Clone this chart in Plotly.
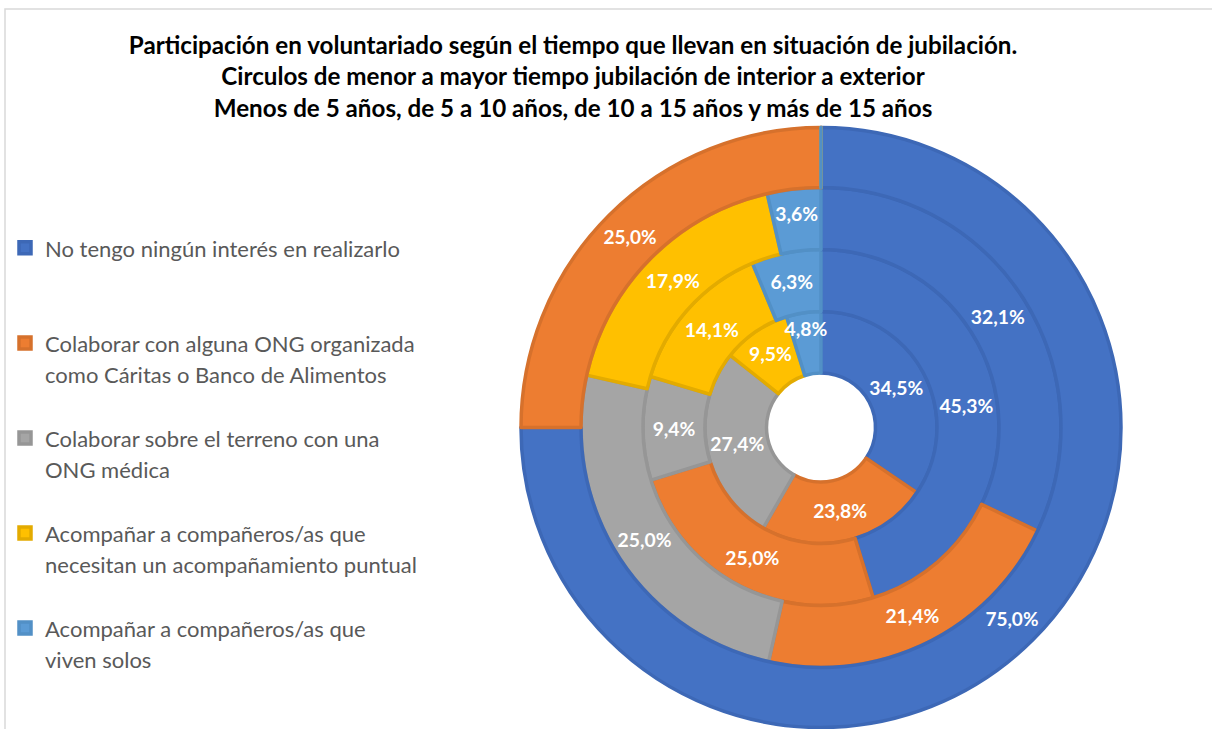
import plotly.graph_objects as go

# ---- data ----
categories = [
    "No tengo ningún interés en realizarlo",
    "Colaborar con alguna ONG organizada<br>como Cáritas o Banco de Alimentos",
    "Colaborar sobre el terreno con una<br>ONG médica",
    "Acompañar a compañeros/as que<br>necesitan un acompañamiento puntual",
    "Acompañar a compañeros/as que<br>viven solos",
]
rings = ["Menos de 5 años", "De 5 a 10 años", "De 10 a 15 años", "Más de 15 años"]
menos_5 = [34.5, 23.8, 27.4, 9.5, 4.8]
de_5_a_10 = [45.3, 25.0, 9.4, 14.1, 6.3]
de_10_a_15 = [32.1, 21.4, 25.0, 17.9, 3.6]
mas_15 = [75.0, 25.0, 0.0, 0.0, 0.0]
ring_values = [menos_5, de_5_a_10, de_10_a_15, mas_15]

title_lines = [
    "Participación en voluntariado según el tiempo que llevan en situación de jubilación.",
    "Circulos de menor a mayor tiempo jubilación de interior a exterior",
    "Menos de 5 años, de 5 a 10 años, de 10 a 15 años y más de 15 años",
]

# ---- style ----
W, H = 1212, 729
fills = ["#4472C4", "#ED7D31", "#A5A5A5", "#FFC000", "#5B9BD5"]
borders = ["#3D68B6", "#D6712C", "#969696", "#E3AB00", "#5290C6"]
FONT = "Lato"
cx, cy_top = 821, 427.5
radii = [54.5, 116, 178, 240, 300]
label_sizes = [20, 20, 20, 19]

# legend labels: visible text at 22px, padded with blank lines for item spacing
LEG_LINE = 23.6
pad = [2, 1, 1, 1, 1]
legend_labels = [
    "<br>".join('<span style="font-size:22px">%s</span>' % part for part in c.split("<br>"))
    + "<br> " * p
    for c, p in zip(categories, pad)
]


def fmt(v):
    return ("%.1f%%" % v).replace(".", ",") if v > 0 else ""


fig = go.Figure()
cy = H - cy_top
for k, vals in enumerate(ring_values):
    r_in, r_out = radii[k], radii[k + 1]
    fig.add_trace(go.Pie(
        name=rings[k],
        labels=legend_labels,
        values=vals,
        text=[fmt(v) for v in vals],
        texttemplate="%{text}",
        textposition="inside",
        insidetextorientation="horizontal",
        textfont=dict(family=FONT, size=label_sizes[k], color="white", weight="bold"),
        hole=r_in / r_out,
        sort=False,
        direction="clockwise",
        rotation=0,
        marker=dict(colors=fills, line=dict(color=borders, width=3.5)),
        domain=dict(x=[(cx - r_out) / W, (cx + r_out) / W],
                    y=[(cy - r_out) / H, (cy + r_out) / H]),
        showlegend=(k == 0),
        hovertemplate=rings[k] + ": %{text}<extra></extra>",
    ))

fig.update_layout(
    width=W, height=H, autosize=False,
    margin=dict(l=0, r=0, t=0, b=0),
    paper_bgcolor="white", plot_bgcolor="white",
    font=dict(family=FONT, color="#595959"),
    title=dict(
        text="<br>".join(title_lines),
        x=573 / W, xanchor="center", xref="container",
        y=1 - 54 / H, yanchor="top", yref="container",
        font=dict(family=FONT, size=24.2, color="black", weight="bold"),
    ),
    legend=dict(
        x=5 / W, xanchor="left", y=1 - 226 / H, yanchor="top",
        font=dict(family=FONT, size=LEG_LINE, color="#595959"),
        valign="top", bgcolor="rgba(0,0,0,0)", traceorder="normal",
    ),
    uniformtext=dict(minsize=19, mode="show"),
    shapes=[dict(type="rect", xref="paper", yref="paper",
                 x0=5 / W, x1=1.05, y0=-0.05, y1=1 - 9 / H,
                 line=dict(color="#D9D9D9", width=1.5), fillcolor="rgba(0,0,0,0)",
                 layer="below")],
)

fig.write_html("out.html", config={"displayModeBar": False},
               post_script="document.body.style.margin='0';")
